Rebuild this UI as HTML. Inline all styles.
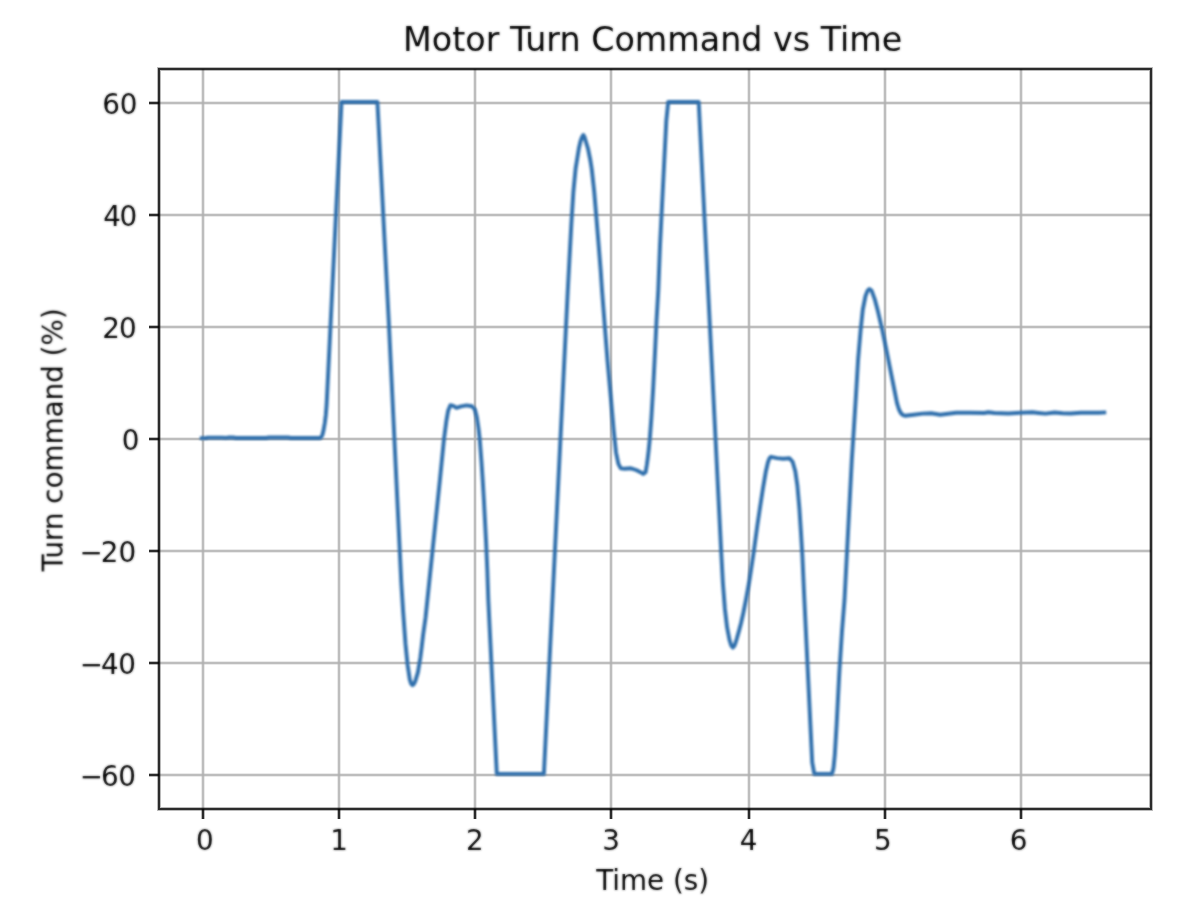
<!DOCTYPE html>
<html lang="en"><head><meta charset="utf-8"><title>Motor Turn Command vs Time</title>
<style>
html,body{margin:0;padding:0;background:#fff;}
body{width:1196px;height:914px;overflow:hidden;}
svg{display:block;}
text{font-family:"DejaVu Sans","Liberation Sans",sans-serif;fill:#000;}
.tk{font-size:27.78px;}
.ti{font-size:33.33px;}
</style></head><body>
<svg width="1196" height="914" viewBox="0 0 1196 914">
<defs><filter id="fc" filterUnits="userSpaceOnUse" x="0" y="0" width="1196" height="914" color-interpolation-filters="sRGB"><feGaussianBlur stdDeviation="0.9"/></filter>
<filter id="ft" filterUnits="userSpaceOnUse" x="0" y="0" width="1196" height="914" color-interpolation-filters="sRGB"><feGaussianBlur stdDeviation="0.9" result="b"/><feComposite in="b" in2="SourceGraphic" operator="arithmetic" k1="0" k2="0.65" k3="0.35" k4="0"/></filter>
<clipPath id="ax"><rect x="159" y="69" width="992" height="740"/></clipPath></defs>
<rect x="0" y="0" width="1196" height="914" fill="#ffffff"/>
<g fill="none" shape-rendering="crispEdges">
<line x1="203" y1="69" x2="203" y2="809" stroke="#b0b0b0" stroke-width="4" stroke-opacity="0.27"/>
<line x1="203" y1="69" x2="203" y2="809" stroke="#b0b0b0" stroke-width="2" stroke-opacity="0.77"/>
<line x1="339" y1="69" x2="339" y2="809" stroke="#b0b0b0" stroke-width="4" stroke-opacity="0.27"/>
<line x1="339" y1="69" x2="339" y2="809" stroke="#b0b0b0" stroke-width="2" stroke-opacity="0.77"/>
<line x1="475" y1="69" x2="475" y2="809" stroke="#b0b0b0" stroke-width="4" stroke-opacity="0.27"/>
<line x1="475" y1="69" x2="475" y2="809" stroke="#b0b0b0" stroke-width="2" stroke-opacity="0.77"/>
<line x1="611" y1="69" x2="611" y2="809" stroke="#b0b0b0" stroke-width="4" stroke-opacity="0.27"/>
<line x1="611" y1="69" x2="611" y2="809" stroke="#b0b0b0" stroke-width="2" stroke-opacity="0.77"/>
<line x1="749" y1="69" x2="749" y2="809" stroke="#b0b0b0" stroke-width="4" stroke-opacity="0.27"/>
<line x1="749" y1="69" x2="749" y2="809" stroke="#b0b0b0" stroke-width="2" stroke-opacity="0.77"/>
<line x1="885" y1="69" x2="885" y2="809" stroke="#b0b0b0" stroke-width="4" stroke-opacity="0.27"/>
<line x1="885" y1="69" x2="885" y2="809" stroke="#b0b0b0" stroke-width="2" stroke-opacity="0.77"/>
<line x1="1021" y1="69" x2="1021" y2="809" stroke="#b0b0b0" stroke-width="4" stroke-opacity="0.27"/>
<line x1="1021" y1="69" x2="1021" y2="809" stroke="#b0b0b0" stroke-width="2" stroke-opacity="0.77"/>
<line x1="159" y1="103" x2="1151" y2="103" stroke="#b0b0b0" stroke-width="4" stroke-opacity="0.27"/>
<line x1="159" y1="103" x2="1151" y2="103" stroke="#b0b0b0" stroke-width="2" stroke-opacity="0.77"/>
<line x1="159" y1="215" x2="1151" y2="215" stroke="#b0b0b0" stroke-width="4" stroke-opacity="0.27"/>
<line x1="159" y1="215" x2="1151" y2="215" stroke="#b0b0b0" stroke-width="2" stroke-opacity="0.77"/>
<line x1="159" y1="327" x2="1151" y2="327" stroke="#b0b0b0" stroke-width="4" stroke-opacity="0.27"/>
<line x1="159" y1="327" x2="1151" y2="327" stroke="#b0b0b0" stroke-width="2" stroke-opacity="0.77"/>
<line x1="159" y1="439" x2="1151" y2="439" stroke="#b0b0b0" stroke-width="4" stroke-opacity="0.27"/>
<line x1="159" y1="439" x2="1151" y2="439" stroke="#b0b0b0" stroke-width="2" stroke-opacity="0.77"/>
<line x1="159" y1="551" x2="1151" y2="551" stroke="#b0b0b0" stroke-width="4" stroke-opacity="0.27"/>
<line x1="159" y1="551" x2="1151" y2="551" stroke="#b0b0b0" stroke-width="2" stroke-opacity="0.77"/>
<line x1="159" y1="663" x2="1151" y2="663" stroke="#b0b0b0" stroke-width="4" stroke-opacity="0.27"/>
<line x1="159" y1="663" x2="1151" y2="663" stroke="#b0b0b0" stroke-width="2" stroke-opacity="0.77"/>
<line x1="159" y1="775" x2="1151" y2="775" stroke="#b0b0b0" stroke-width="4" stroke-opacity="0.27"/>
<line x1="159" y1="775" x2="1151" y2="775" stroke="#b0b0b0" stroke-width="2" stroke-opacity="0.77"/>
</g>
<polyline filter="url(#fc)" clip-path="url(#ax)" fill="none" stroke="#2f6fac" stroke-width="3.9" stroke-linejoin="round" stroke-linecap="butt" points="199.8,438.1 206,438 208,437.6 222,437.6 226,437.9 228,437.55 233,437.55 236,438 266,438 269,437.55 288,437.55 291,438 319.8,438 321.3,437.2 322.5,434.5 323.6,430 324.8,423 325.8,415 326.6,405 341.5,102 377.4,102 388.7,320 401.3,583 403.2,612.5 405.5,644 407.6,665 409.8,679.6 411.2,683.8 412.5,685.1 413.8,684.1 415.2,681.4 417.9,672.4 420.3,658 421.7,647 423.1,635 425.5,618 439.9,480 444,439 446.5,420.1 448.2,410.4 450.4,405.2 453.3,405.8 456.5,407.8 461.1,406.3 466.5,405.4 472,406.2 474.9,409.5 476.8,417 478.5,428.5 479.7,439 481.5,462.2 482.7,480.2 483.9,500 486.1,542.3 487.3,570 488.3,600 496.8,773.9 543.9,773.9 567.8,290 569.3,262 571.3,224.8 573.4,191.5 575.6,168.6 577,160 578.9,148.2 580.4,141.7 581.8,137.5 583.3,135 584.6,137.3 585.9,141.7 587.9,148.2 590.3,160 591.7,168.7 594.2,191.5 596.3,216.5 598.7,245.6 600.7,270.6 602,290 604.9,327.4 607.5,360.7 610.9,398.2 613.8,431.5 616,452.3 618.4,463.8 620.8,468.4 624.75,468.7 630.9,468.3 636.1,470 640.5,472.2 643.2,473.9 645.6,472.2 646.8,465 647.7,458.5 648.7,450 649.8,439 651.4,417.5 653.2,387.8 655,352.4 656.5,321.2 658.3,290 660,245.6 662.1,204 664.2,162.4 666.3,120.8 668.2,102 698.7,102 721.2,552 722.9,583 724.9,609 727.1,627.4 729.5,640 731.2,645.5 732.9,647.6 734.4,645.8 735.6,642.6 736.7,639 739.2,630.1 741,623.2 743.4,612.5 745.9,600 749.5,580 753.8,551.5 757.4,525 760.2,506.2 762.9,488.7 765.9,471.2 767.9,462.5 769.3,458.6 770.9,456.8 777,458.1 783.2,458.7 789.5,458.3 792.6,461.8 795.3,471.2 797.4,485.8 799.4,508.6 800.9,531.5 802.4,556.5 803.9,590 812.2,762.3 814.3,773.9 832,773.9 833.5,768 834.8,755 836.6,724.8 839.3,672.8 842,631.2 844.5,600 851.8,460.1 853.9,428.1 856,394.8 858.1,359.5 860.6,330.3 862.8,309.5 865.5,296 867.6,290.6 869.4,289 871.6,290.6 874.7,299.1 878,311.6 881.9,328.2 885.8,347 889.5,365.7 893.7,386.5 897,403.1 899,409.5 900.8,413 902.8,415 905.2,415.8 913.7,414.8 922.5,413.6 931.2,413.3 940.2,414.7 956.2,412.72 970.3,412.72 984.3,412.96 988.3,412.24 994.4,412.96 1008.4,413.56 1020.4,412.72 1032.5,412.24 1038.5,412.96 1045.5,413.68 1054.6,412.48 1062.6,413.2 1070.6,413.44 1080.7,412.72 1090.7,412.72 1098.7,412.72 1106.2,412.42"/>
<g fill="none" shape-rendering="crispEdges">
<line x1="203" y1="809" x2="203" y2="819" stroke="#000" stroke-width="4" stroke-opacity="0.27"/>
<line x1="203" y1="809" x2="203" y2="819" stroke="#000" stroke-width="2" stroke-opacity="0.77"/>
<line x1="339" y1="809" x2="339" y2="819" stroke="#000" stroke-width="4" stroke-opacity="0.27"/>
<line x1="339" y1="809" x2="339" y2="819" stroke="#000" stroke-width="2" stroke-opacity="0.77"/>
<line x1="475" y1="809" x2="475" y2="819" stroke="#000" stroke-width="4" stroke-opacity="0.27"/>
<line x1="475" y1="809" x2="475" y2="819" stroke="#000" stroke-width="2" stroke-opacity="0.77"/>
<line x1="611" y1="809" x2="611" y2="819" stroke="#000" stroke-width="4" stroke-opacity="0.27"/>
<line x1="611" y1="809" x2="611" y2="819" stroke="#000" stroke-width="2" stroke-opacity="0.77"/>
<line x1="749" y1="809" x2="749" y2="819" stroke="#000" stroke-width="4" stroke-opacity="0.27"/>
<line x1="749" y1="809" x2="749" y2="819" stroke="#000" stroke-width="2" stroke-opacity="0.77"/>
<line x1="885" y1="809" x2="885" y2="819" stroke="#000" stroke-width="4" stroke-opacity="0.27"/>
<line x1="885" y1="809" x2="885" y2="819" stroke="#000" stroke-width="2" stroke-opacity="0.77"/>
<line x1="1021" y1="809" x2="1021" y2="819" stroke="#000" stroke-width="4" stroke-opacity="0.27"/>
<line x1="1021" y1="809" x2="1021" y2="819" stroke="#000" stroke-width="2" stroke-opacity="0.77"/>
<line x1="149" y1="103" x2="159" y2="103" stroke="#000" stroke-width="4" stroke-opacity="0.27"/>
<line x1="149" y1="103" x2="159" y2="103" stroke="#000" stroke-width="2" stroke-opacity="0.77"/>
<line x1="149" y1="215" x2="159" y2="215" stroke="#000" stroke-width="4" stroke-opacity="0.27"/>
<line x1="149" y1="215" x2="159" y2="215" stroke="#000" stroke-width="2" stroke-opacity="0.77"/>
<line x1="149" y1="327" x2="159" y2="327" stroke="#000" stroke-width="4" stroke-opacity="0.27"/>
<line x1="149" y1="327" x2="159" y2="327" stroke="#000" stroke-width="2" stroke-opacity="0.77"/>
<line x1="149" y1="439" x2="159" y2="439" stroke="#000" stroke-width="4" stroke-opacity="0.27"/>
<line x1="149" y1="439" x2="159" y2="439" stroke="#000" stroke-width="2" stroke-opacity="0.77"/>
<line x1="149" y1="551" x2="159" y2="551" stroke="#000" stroke-width="4" stroke-opacity="0.27"/>
<line x1="149" y1="551" x2="159" y2="551" stroke="#000" stroke-width="2" stroke-opacity="0.77"/>
<line x1="149" y1="663" x2="159" y2="663" stroke="#000" stroke-width="4" stroke-opacity="0.27"/>
<line x1="149" y1="663" x2="159" y2="663" stroke="#000" stroke-width="2" stroke-opacity="0.77"/>
<line x1="149" y1="775" x2="159" y2="775" stroke="#000" stroke-width="4" stroke-opacity="0.27"/>
<line x1="149" y1="775" x2="159" y2="775" stroke="#000" stroke-width="2" stroke-opacity="0.77"/>
<rect x="159" y="69" width="992" height="740" stroke="#000" stroke-width="4" stroke-opacity="0.27"/>
<rect x="159" y="69" width="992" height="740" stroke="#000" stroke-width="2" stroke-opacity="0.77"/>
</g>
<g filter="url(#ft)">
<text class="tk" x="204.8" y="850" text-anchor="middle">0</text>
<text class="tk" x="339.0" y="850" text-anchor="middle">1</text>
<text class="tk" x="474.8" y="850" text-anchor="middle">2</text>
<text class="tk" x="611" y="850" text-anchor="middle">3</text>
<text class="tk" x="748.6" y="850" text-anchor="middle">4</text>
<text class="tk" x="882.8" y="850" text-anchor="middle">5</text>
<text class="tk" x="1018.5" y="850" text-anchor="middle">6</text>
<text class="tk" x="102.3 119.7" y="113.9">60</text>
<text class="tk" x="103.2 119.6" y="225.9">40</text>
<text class="tk" x="102.3 119.1" y="337.9">20</text>
<text class="tk" x="121.8" y="449.9">0</text>
<text class="tk" x="79.5 100.7 118.6" y="561.9">−20</text>
<text class="tk" x="79.8 101.0 118.2" y="673.9">−40</text>
<text class="tk" x="79.8 101.0 118.2" y="785.9">−60</text>
<text class="tk" x="652.6" y="889.7" text-anchor="middle">Time (s)</text>
<text class="tk" transform="translate(62.6 439.8) rotate(-90)" text-anchor="middle">Turn command (%)</text>
<text class="ti" x="652.7" y="50.6" text-anchor="middle">Motor Turn Command vs Time</text>
</g>
</svg>
</body></html>
